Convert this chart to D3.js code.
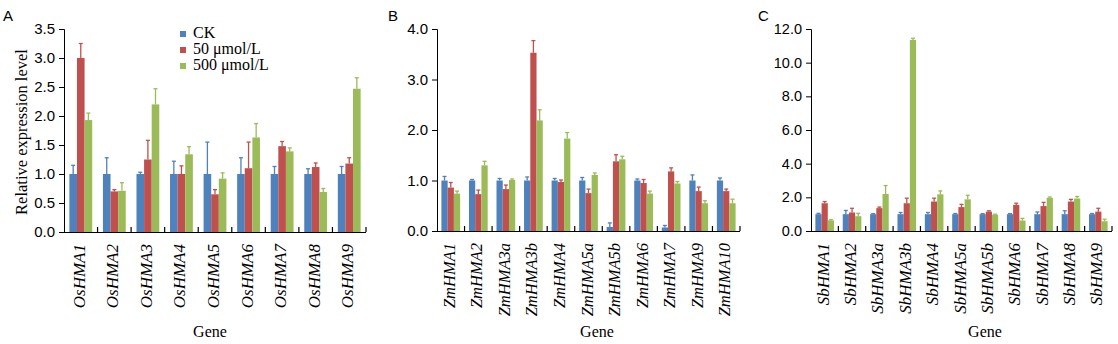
<!DOCTYPE html>
<html><head><meta charset="utf-8">
<script src="https://cdn.jsdelivr.net/npm/d3@7/dist/d3.min.js"></script>
<style>body{margin:0;background:#fff}</style>
</head><body>
<svg id="c" width="1118" height="344"></svg>
<script>
// ---- Data ----
const seriesNames = ["CK", "50 μmol/L", "500 μmol/L"];
const colors = ["#4f81bd", "#c0504d", "#9bbb59"];

const genesA = ["OsHMA1","OsHMA2","OsHMA3","OsHMA4","OsHMA5","OsHMA6","OsHMA7","OsHMA8","OsHMA9"];
const ckA    = [1,1,1,1,1,1,1,1,1];
const ckErrA = [0.15,0.28,0.03,0.22,0.55,0.28,0.13,0.09,0.13];
const lowA   = [3.0,0.70,1.25,1.0,0.65,1.10,1.48,1.12,1.18];
const lowErrA= [0.25,0.03,0.33,0.14,0.08,0.45,0.08,0.07,0.10];
const highA  = [1.93,0.71,2.20,1.34,0.92,1.63,1.39,0.69,2.47];
const highErrA=[0.12,0.14,0.27,0.13,0.10,0.24,0.06,0.06,0.19];
const ticksA = [0,0.5,1.0,1.5,2.0,2.5,3.0,3.5];

const genesB = ["ZmHMA1","ZmHMA2","ZmHMA3a","ZmHMA3b","ZmHMA4","ZmHMA5a","ZmHMA5b","ZmHMA6","ZmHMA7","ZmHMA9","ZmHMA10"];
const ckB    = [1,1,1,1,1,1,0.08,1,0.07,1,1];
const ckErrB = [0.08,0.02,0.04,0.07,0.04,0.06,0.08,0.03,0.04,0.11,0.05];
const lowB   = [0.86,0.73,0.83,3.53,0.97,0.75,1.38,0.95,1.18,0.79,0.79];
const lowErrB= [0.10,0.08,0.08,0.24,0.04,0.08,0.13,0.07,0.07,0.08,0.04];
const highB  = [0.74,1.30,1.01,2.19,1.83,1.11,1.42,0.74,0.94,0.55,0.55];
const highErrB=[0.05,0.08,0.02,0.21,0.12,0.04,0.06,0.05,0.04,0.05,0.08];
const ticksB = [0,1,2,3,4];

const genesC = ["SbHMA1","SbHMA2","SbHMA3a","SbHMA3b","SbHMA4","SbHMA5a","SbHMA5b","SbHMA6","SbHMA7","SbHMA8","SbHMA9"];
const ckC    = [1,1,1,1,1,1,1,1,1,1,1];
const ckErrC = [0.05,0.22,0.03,0.10,0.10,0.04,0.03,0.03,0.13,0.20,0.04];
const lowC   = [1.65,1.10,1.36,1.65,1.75,1.42,1.15,1.55,1.48,1.75,1.15];
const lowErrC= [0.10,0.25,0.06,0.30,0.20,0.16,0.05,0.10,0.22,0.13,0.20];
const highC  = [0.63,0.88,2.20,11.35,2.18,1.88,0.97,0.62,1.97,1.93,0.58];
const highErrC=[0.04,0.17,0.50,0.10,0.20,0.24,0.03,0.13,0.05,0.12,0.12];
const ticksC = [0,2,4,6,8,10,12];

const svg = d3.select("#c");
const sans = "'Liberation Sans', Arial, sans-serif";
const serif = "'Liberation Serif', 'Times New Roman', serif";

function drawPanel(p) {
  const g = svg.append("g");
  const x = d3.scaleBand().domain(p.genes).range([p.x0, p.x1]).padding(0);
  const y = d3.scaleLinear().domain([0, p.ymax]).range([p.y0, p.y1]);
  const bw = x.bandwidth();
  const groupW = bw * 0.68;
  const inner = d3.scaleBand().domain([0,1,2]).range([0, groupW]).padding(0);
  const vals = [p.ck, p.low, p.high];
  const errs = [p.ckErr, p.lowErr, p.highErr];

  vals.forEach((arr, s) => {
    g.selectAll(null).data(arr).enter().append("rect")
      .attr("x", (d, i) => x(p.genes[i]) + (bw - groupW) / 2 + inner(s))
      .attr("y", d => y(d))
      .attr("width", inner.bandwidth())
      .attr("height", d => y(0) - y(d))
      .attr("fill", colors[s]);
  });
  vals.forEach((arr, s) => {
    arr.forEach((d, i) => {
      const cx = x(p.genes[i]) + (bw - groupW) / 2 + inner(s) + inner.bandwidth() / 2;
      const top = y(d + errs[s][i]);
      g.append("line").attr("x1", cx).attr("x2", cx).attr("y1", y(d)).attr("y2", top)
        .attr("stroke", colors[s]).attr("stroke-width", 1.3);
      g.append("line").attr("x1", cx - 2).attr("x2", cx + 2).attr("y1", top).attr("y2", top)
        .attr("stroke", colors[s]).attr("stroke-width", 1.3);
    });
  });

  const ya = d3.axisLeft(y).tickValues(p.ticks).tickSize(5).tickPadding(4)
    .tickFormat(d3.format(".1f"));
  const yg = g.append("g").attr("transform", `translate(${p.x0},0)`).call(ya);
  yg.select(".domain").attr("d", `M-5,${y(p.ymax)+0.5}H0.5V${p.y0}`).attr("stroke", "#000");
  yg.selectAll(".tick line").attr("stroke", "#000");
  yg.selectAll(".tick text").attr("font-family", sans).attr("font-size", p.tickFont).attr("fill", "#000");

  g.append("line").attr("x1", p.x0).attr("x2", p.x1).attr("y1", p.y0 + 0.5).attr("y2", p.y0 + 0.5)
    .attr("stroke", "#000").attr("stroke-width", 1.2);
  p.genes.forEach((gname) => {
    const bx = x(gname) + bw;
    g.append("line").attr("x1", bx).attr("x2", bx).attr("y1", p.y0).attr("y2", p.y0 - 5)
      .attr("stroke", "#000").attr("stroke-width", 1.2);
  });
  g.selectAll(null).data(p.genes).enter().append("text")
    .attr("transform", d => `translate(${x(d) + bw / 2 + 4},${p.y0 + 12}) rotate(-90)`)
    .attr("text-anchor", "end")
    .attr("font-family", serif).attr("font-style", "italic").attr("font-size", p.labelFont)
    .text(d => d);
  g.append("text").attr("x", p.geneX).attr("y", 337).attr("text-anchor", "middle")
    .attr("font-family", serif).attr("font-size", 16).text("Gene");
  g.append("text").attr("x", p.letterX).attr("y", 21).attr("font-family", sans)
    .attr("font-size", 15).text(p.letter);
}

drawPanel({genes: genesA, ck: ckA, ckErr: ckErrA, low: lowA, lowErr: lowErrA, high: highA, highErr: highErrA,
  ticks: ticksA, ymax: 3.5, x0: 64, x1: 366, y0: 232, y1: 29, tickFont: 15, labelFont: 17, geneX: 210, letter: "A", letterX: 3});
drawPanel({genes: genesB, ck: ckB, ckErr: ckErrB, low: lowB, lowErr: lowErrB, high: highB, highErr: highErrB,
  ticks: ticksB, ymax: 4, x0: 437, x1: 740, y0: 231, y1: 29, tickFont: 15, labelFont: 16.5, geneX: 597, letter: "B", letterX: 388});
drawPanel({genes: genesC, ck: ckC, ckErr: ckErrC, low: lowC, lowErr: lowErrC, high: highC, highErr: highErrC,
  ticks: ticksC, ymax: 12, x0: 811, x1: 1112, y0: 231, y1: 29, tickFont: 14.5, labelFont: 17, geneX: 985, letter: "C", letterX: 758});

svg.append("text").attr("transform", "translate(27,132) rotate(-90)").attr("text-anchor", "middle")
  .attr("font-family", serif).attr("font-size", 16.5).text("Relative expression level");

const leg = svg.append("g");
seriesNames.forEach((n, i) => {
  leg.append("rect").attr("x", 180).attr("y", 31 + i * 16).attr("width", 6).attr("height", 6).attr("fill", colors[i]);
  leg.append("text").attr("x", 193).attr("y", 38 + i * 16).attr("font-family", serif).attr("font-size", 16).text(n);
});
</script>
</body></html>
